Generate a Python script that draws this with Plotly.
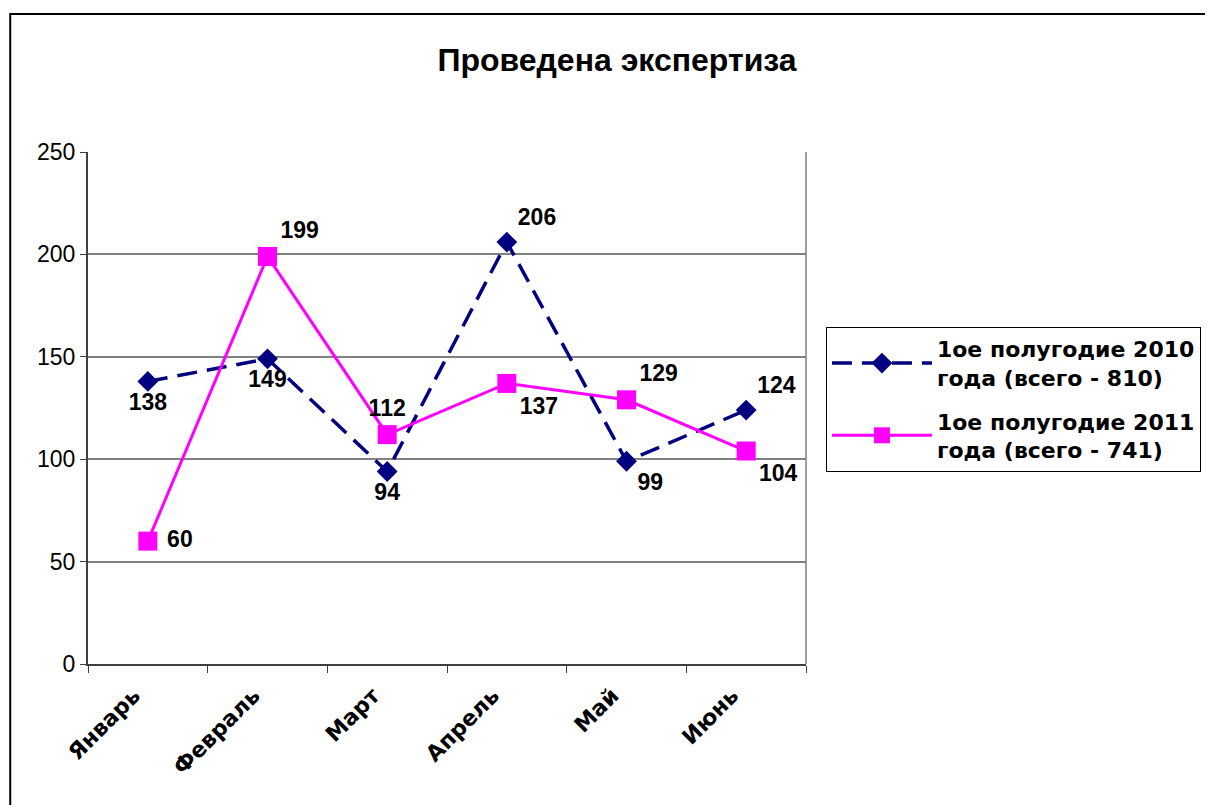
import plotly.graph_objects as go

months = ["Январь", "Февраль", "Март", "Апрель", "Май", "Июнь"]
vals_2010 = [138, 149, 94, 206, 99, 124]
vals_2011 = [60, 199, 112, 137, 129, 104]
name_2010 = "1ое полугодие 2010<br>года (всего - 810)"
name_2011 = "1ое полугодие 2011<br>года (всего - 741)"
pos_2010 = ["bottom center", "bottom center", "bottom center", "top right", "bottom right", "top right"]
pos_2011 = ["middle right", "top right", "top center", "bottom right", "top right", "bottom right"]

FONT = "Liberation Sans, Arial, sans-serif"
WIDE = "DejaVu Sans, Liberation Sans, sans-serif"


def labels(vals, positions):
    return [("\u00a0" if p == "middle right" else "") + str(v) for v, p in zip(vals, positions)]


fig = go.Figure()
fig.add_trace(go.Scatter(
    x=months, y=vals_2010, name=name_2010, legendgroup="a", mode="lines+markers+text",
    line=dict(color="#000080", width=3.5, dash="20px,10px"),
    marker=dict(symbol="diamond", size=16, color="#000080"),
    text=labels(vals_2010, pos_2010), textposition=pos_2010,
    textfont=dict(family=FONT, size=23, color="black", weight="bold"),
    cliponaxis=False,
))
fig.add_trace(go.Scatter(
    x=months, y=vals_2011, name=name_2011, legendgroup="b", mode="lines+markers+text",
    line=dict(color="#FF00FF", width=3),
    marker=dict(symbol="square", size=19, color="#FF00FF"),
    text=labels(vals_2011, pos_2011), textposition=pos_2011,
    textfont=dict(family=FONT, size=23, color="black", weight="bold"),
    cliponaxis=False,
))

# page has an 8px body margin; figure coords = reference coords - 8
OFF = 8
W, H = 1205, 797
L, T = 88 - OFF, 152 - OFF
R, B = W - (808 - OFF), H - (664 - OFF)
pw, ph = W - L - R, H - T - B

fig.update_layout(
    width=W, height=H,
    margin=dict(l=L, r=R, t=T, b=B),
    paper_bgcolor="white", plot_bgcolor="white",
    font=dict(family=FONT, color="black"),
    title=dict(text="<b>Проведена экспертиза</b>", x=(617 - OFF) / W, xanchor="center",
               y=1 - (60 - OFF) / H, yanchor="middle",
               font=dict(family=FONT, size=32, color="black")),
    showlegend=True,
    legend=dict(x=(828 - OFF - L) / pw, y=(H - B - (327 - OFF)) / ph,
                xanchor="left", yanchor="top",
                bordercolor="black", borderwidth=1, bgcolor="white",
                font=dict(family=WIDE, size=22, color="black", weight="bold"),
                itemwidth=100, tracegroupgap=12, groupclick="toggleitem"),
    xaxis=dict(type="category", range=[-0.5, 5.5], tickson="boundaries", ticks="outside",
               ticklen=7, tickcolor="#404040", showline=True, linecolor="#404040",
               linewidth=2, showgrid=False, tickangle=-45,
               ticklabelshift=-14, ticklabelstandoff=8,
               tickfont=dict(family=WIDE, size=22, color="black", weight="bold")),
    yaxis=dict(range=[0, 250], dtick=50, ticks="outside", ticklen=6, tickcolor="#404040",
               showline=True, linecolor="#404040", linewidth=2,
               showgrid=True, gridcolor="#808080", gridwidth=1.5,
               tickfont=dict(family=FONT, size=23, color="black"), zeroline=False),
)
# right edge of plot area
fig.add_shape(type="line", xref="paper", yref="paper", x0=1, x1=1, y0=0, y1=1,
              line=dict(color="#808080", width=1.5))
# outer chart border
fig.add_shape(type="rect", xref="paper", yref="paper",
              x0=(10 - OFF - L) / pw, x1=(W + 20 - L) / pw,
              y0=(H - B - (H + 20)) / ph, y1=(H - B - (14 - OFF)) / ph,
              line=dict(color="black", width=2), layer="below")

fig.write_html("out.html")
